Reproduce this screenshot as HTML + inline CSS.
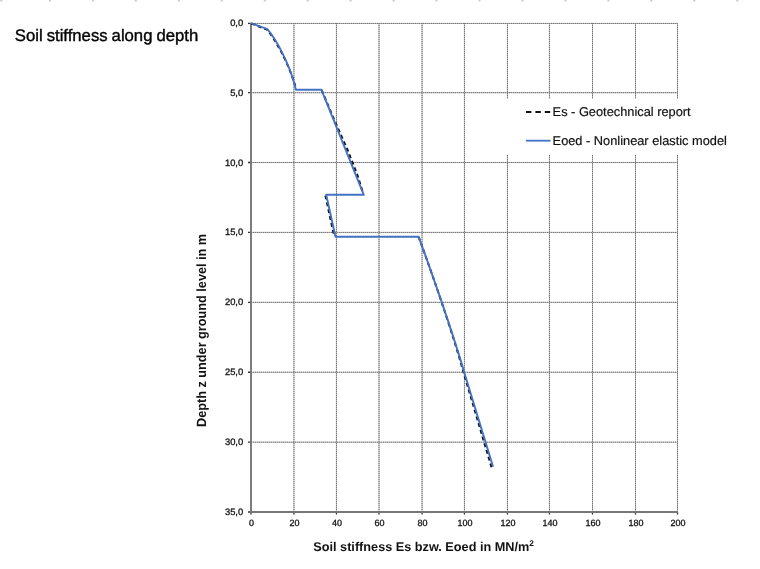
<!DOCTYPE html>
<html><head><meta charset="utf-8"><style>
html,body{margin:0;padding:0;background:#fff;}
body{width:760px;height:569px;position:relative;overflow:hidden;font-family:"Liberation Sans",sans-serif;}
</style></head><body>
<svg width="760" height="569" viewBox="0 0 760 569" font-family="Liberation Sans, sans-serif" style="position:absolute;left:0;top:0;display:block;text-rendering:geometricPrecision;filter:blur(0.4px)"><path d="M293.95,23 V511 M336.45,23 V511 M379.00,23 V511 M422.05,23 V511 M464.45,23 V511 M507.45,23 V511 M549.45,23 V511 M592.50,23 V511 M635.50,23 V511 M677.50,23 V511 M251,23.45 H677.50 M251,92.70 H677.50 M251,162.50 H677.50 M251,232.40 H677.50 M251,302.35 H677.50 M251,372.25 H677.50 M251,442.20 H677.50" stroke="#ababab" stroke-width="1" fill="none"/><path d="M293.95,23 V511 M336.45,23 V511 M379.00,23 V511 M422.05,23 V511 M464.45,23 V511 M507.45,23 V511 M549.45,23 V511 M592.50,23 V511 M635.50,23 V511 M677.50,23 V511 M251,23.45 H677.50 M251,92.70 H677.50 M251,162.50 H677.50 M251,232.40 H677.50 M251,302.35 H677.50 M251,372.25 H677.50 M251,442.20 H677.50" stroke="#777" stroke-width="1" stroke-dasharray="1 1" fill="none"/><path d="M248,23.45 H251 M248,92.70 H251 M248,162.50 H251 M248,232.40 H251 M248,302.35 H251 M248,372.25 H251 M248,442.20 H251 M248,512.00 H251 M251.00,512 V514.6 M293.95,512 V514.6 M336.45,512 V514.6 M379.00,512 V514.6 M422.05,512 V514.6 M464.45,512 V514.6 M507.45,512 V514.6 M549.45,512 V514.6 M592.50,512 V514.6 M635.50,512 V514.6 M677.50,512 V514.6" stroke="#333" stroke-width="1.3" fill="none"/><path d="M251.0,23 V513 M250.1,512 H678.00" stroke="#777" stroke-width="1.9" fill="none"/><path d="M1.3,0 V1.6 M49.9,0 V1.6 M92.9,0 V1.6 M135.8,0 V1.6 M178.8,0 V1.6 M221.7,0 V1.6 M264.7,0 V1.6 M307.7,0 V1.6 M350.6,0 V1.6 M393.6,0 V1.6 M436.5,0 V1.6 M479.5,0 V1.6 M522.5,0 V1.6 M565.4,0 V1.6 M608.4,0 V1.6 M651.3,0 V1.6 M694.3,0 V1.6 M737.3,0 V1.6" stroke="#c8c8c8" stroke-width="2" fill="none"/><rect x="470" y="98.7" width="285" height="56.3" fill="#fff"/><path d="M251.2,23.5 L267.0,29.6 C275.6,39.5 288.6,63.5 295.3,86.0 M321.6,90 L334.3,120 L347.6,150 L357.4,175 L363.3,193.8 M325.4,195.5 L334.0,235.5 M418.5,236.6 C428,262.1 452,330.1 463.6,372.6 L491.8,468.2" fill="none" stroke="#111" stroke-width="2" stroke-dasharray="4 3"/><path d="M251.2,23.2 L267.3,29.2 C276,39 289,63 294.8,85.3 L295.9,89.8 L321.5,89.8 L363.8,194.8 L326.2,194.8 L335.5,236.7 L418.5,236.7 C428,262 452,330 464.2,372.2 L493.0,466.6" fill="none" stroke="#4472c4" stroke-width="1.9" stroke-linejoin="round"/><path d="M526,112.1 H550.6" stroke="#111" stroke-width="2" stroke-dasharray="5.4 4" fill="none"/><path d="M526,140.7 H550.5" stroke="#4472c4" stroke-width="1.8" fill="none"/><g opacity="0.995"><text x="14.8" y="41.2" word-spacing="-0.6" font-size="16.7" fill="#000" stroke="#000" stroke-width="0.4">Soil stiffness along depth</text><text x="243.2" y="25.8" font-size="9.4" text-anchor="end" fill="#111" stroke="#111" stroke-width="0.3">0,0</text><text x="243.2" y="95.7" font-size="9.4" text-anchor="end" fill="#111" stroke="#111" stroke-width="0.3">5,0</text><text x="243.2" y="165.5" font-size="9.4" text-anchor="end" fill="#111" stroke="#111" stroke-width="0.3">10,0</text><text x="243.2" y="235.4" font-size="9.4" text-anchor="end" fill="#111" stroke="#111" stroke-width="0.3">15,0</text><text x="243.2" y="305.4" font-size="9.4" text-anchor="end" fill="#111" stroke="#111" stroke-width="0.3">20,0</text><text x="243.2" y="375.2" font-size="9.4" text-anchor="end" fill="#111" stroke="#111" stroke-width="0.3">25,0</text><text x="243.2" y="445.2" font-size="9.4" text-anchor="end" fill="#111" stroke="#111" stroke-width="0.3">30,0</text><text x="243.2" y="515.0" font-size="9.4" text-anchor="end" fill="#111" stroke="#111" stroke-width="0.3">35,0</text><text x="251.5" y="525.9" font-size="9" text-anchor="middle" fill="#111" stroke="#111" stroke-width="0.3">0</text><text x="294.4" y="525.9" font-size="9" text-anchor="middle" fill="#111" stroke="#111" stroke-width="0.3">20</text><text x="336.9" y="525.9" font-size="9" text-anchor="middle" fill="#111" stroke="#111" stroke-width="0.3">40</text><text x="379.5" y="525.9" font-size="9" text-anchor="middle" fill="#111" stroke="#111" stroke-width="0.3">60</text><text x="422.6" y="525.9" font-size="9" text-anchor="middle" fill="#111" stroke="#111" stroke-width="0.3">80</text><text x="464.9" y="525.9" font-size="9" text-anchor="middle" fill="#111" stroke="#111" stroke-width="0.3">100</text><text x="507.9" y="525.9" font-size="9" text-anchor="middle" fill="#111" stroke="#111" stroke-width="0.3">120</text><text x="550.0" y="525.9" font-size="9" text-anchor="middle" fill="#111" stroke="#111" stroke-width="0.3">140</text><text x="593.0" y="525.9" font-size="9" text-anchor="middle" fill="#111" stroke="#111" stroke-width="0.3">160</text><text x="636.0" y="525.9" font-size="9" text-anchor="middle" fill="#111" stroke="#111" stroke-width="0.3">180</text><text x="678.0" y="525.9" font-size="9" text-anchor="middle" fill="#111" stroke="#111" stroke-width="0.3">200</text><text x="313.3" y="550.6" font-size="12.7" font-weight="bold" fill="#111">Soil stiffness Es bzw. Eoed in MN/m<tspan font-size="8.3" dy="-4.5">2</tspan></text><text transform="translate(206.4,427) rotate(-90) scale(1,1.05)" x="0" y="0" font-size="12.7" font-weight="bold" fill="#111">Depth z under ground level in m</text><text x="552.6" y="116" font-size="12.8" fill="#111" stroke="#111" stroke-width="0.2">Es - Geotechnical report</text><text x="552.6" y="144.6" font-size="12.8" fill="#111" stroke="#111" stroke-width="0.2">Eoed - Nonlinear elastic model</text></g></svg>
</body></html>
